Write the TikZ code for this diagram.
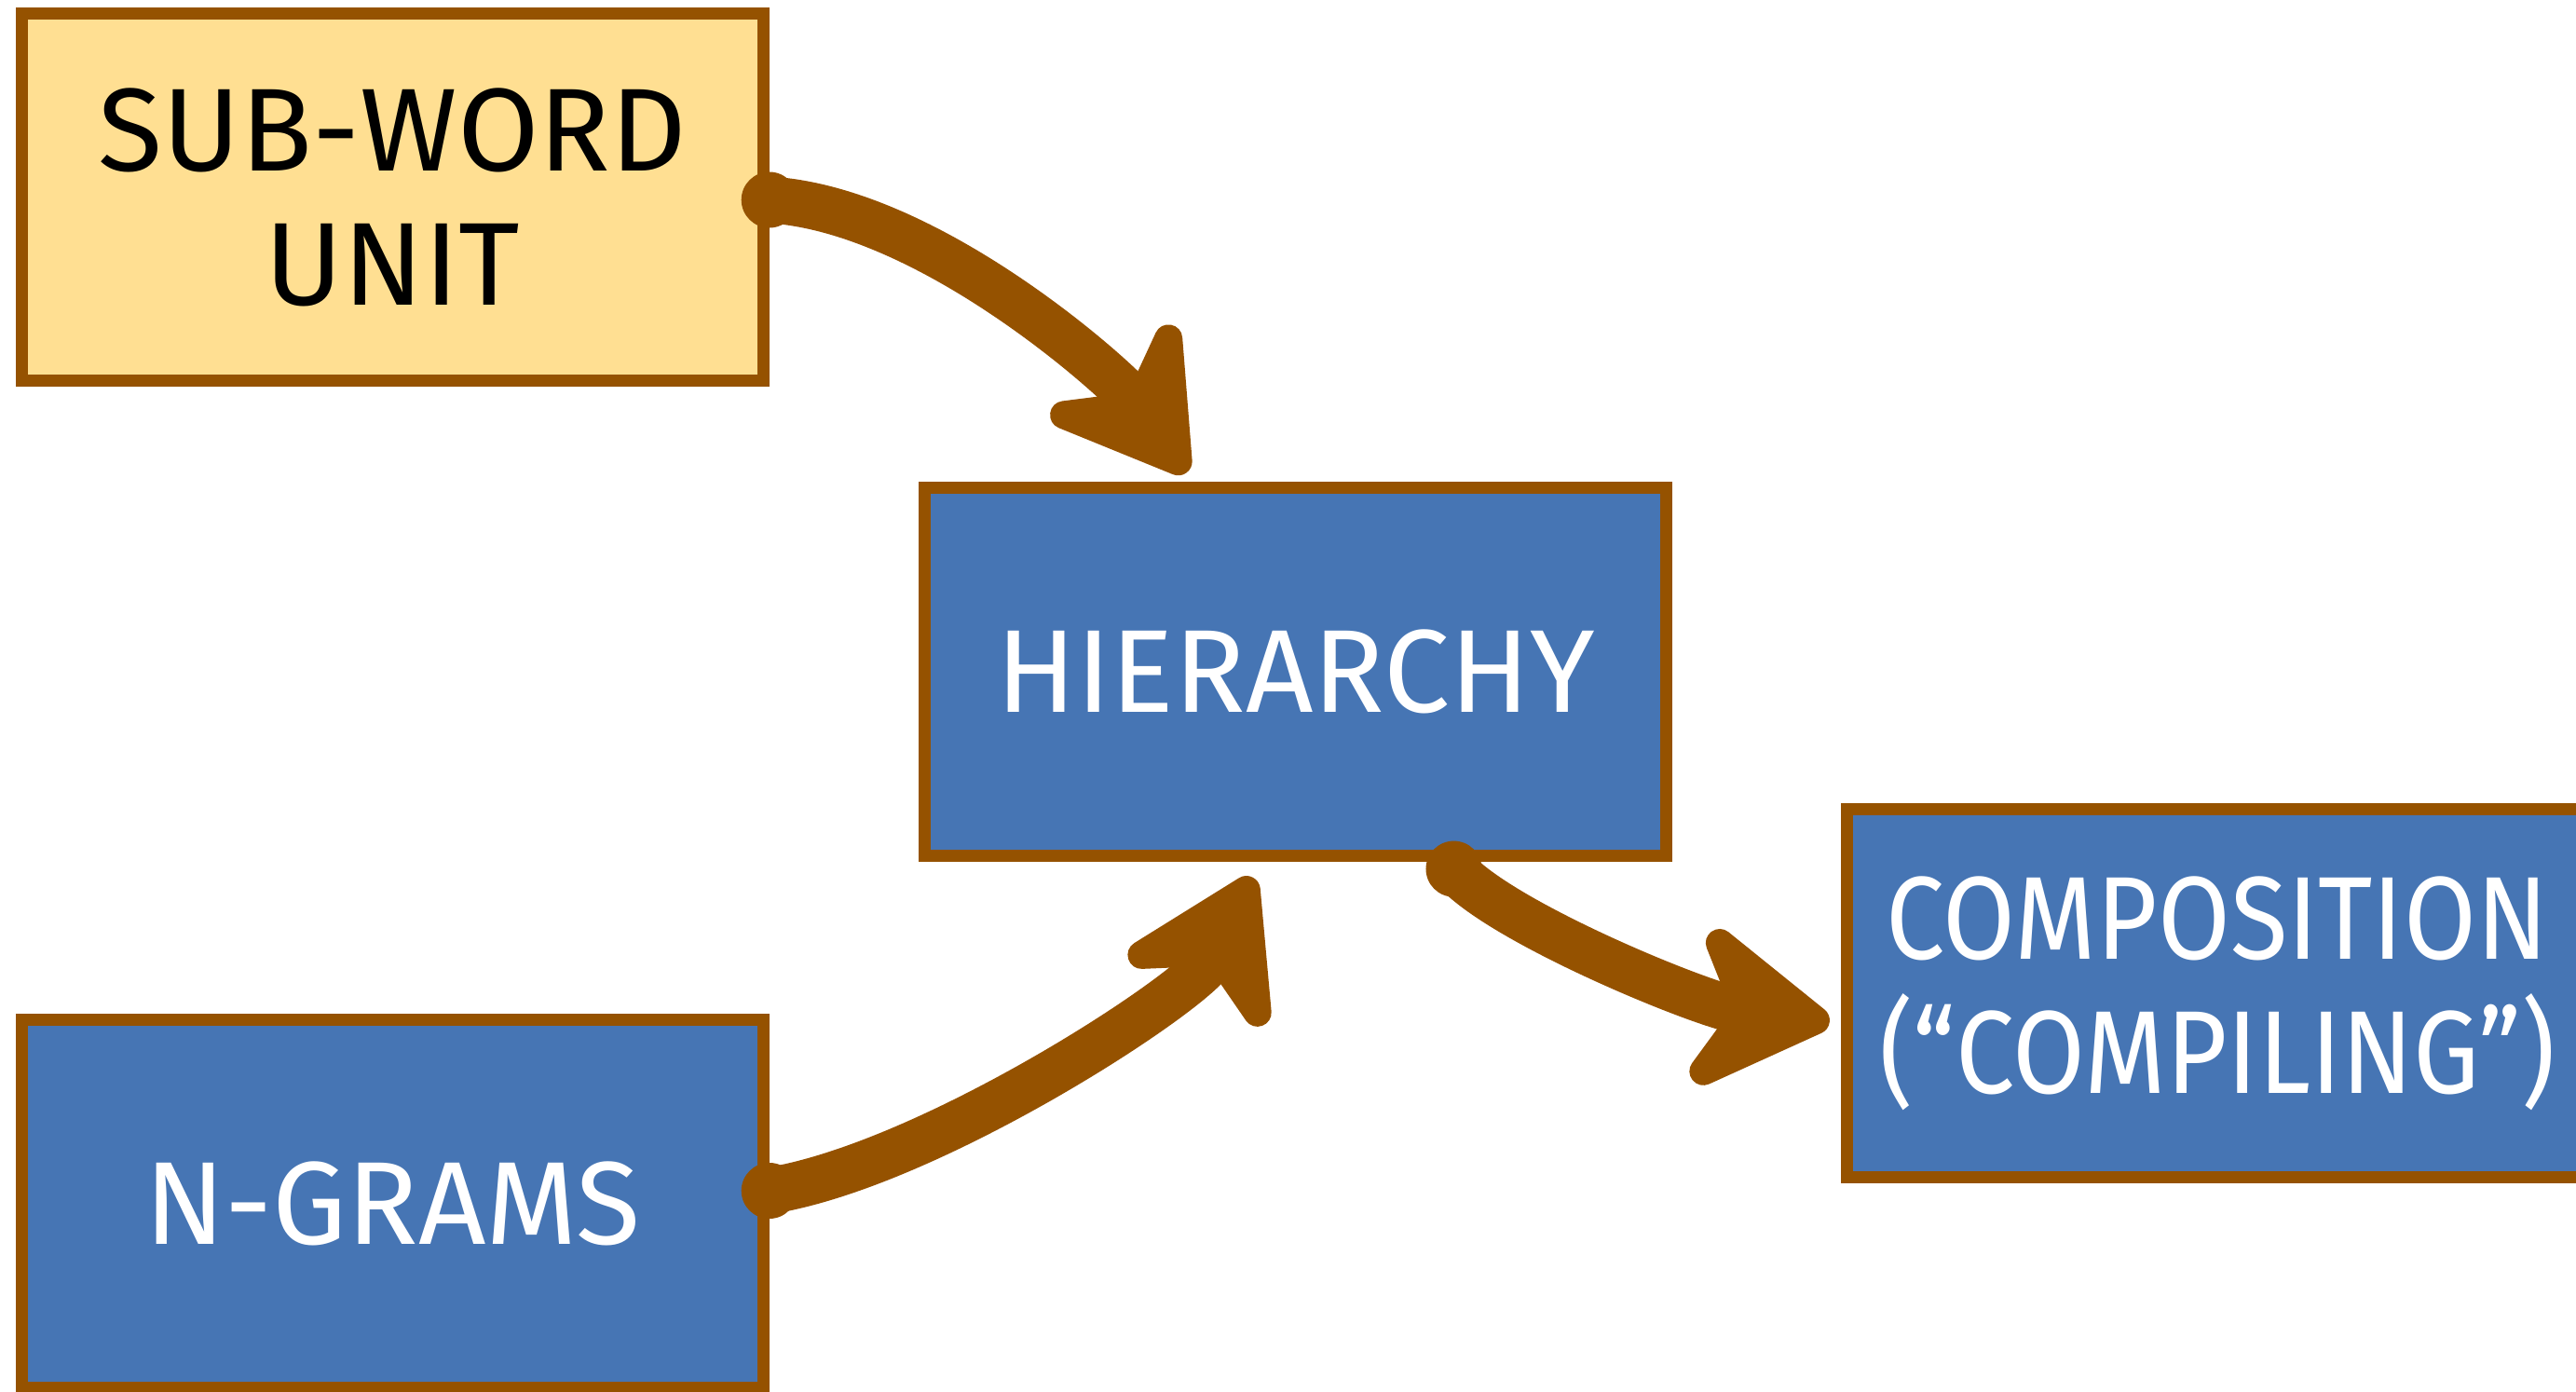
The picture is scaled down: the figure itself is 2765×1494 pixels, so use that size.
\documentclass[tikz,border=0pt]{standalone}
\usepackage{fontspec}
\setmainfont{Fira Sans}
\usetikzlibrary{arrows.meta,calc}
\definecolor{brownc}{RGB}{149,82,0}
\definecolor{bluec}{RGB}{70,117,180}
\definecolor{yellowc}{RGB}{255,223,146}
\begin{document}
\begin{tikzpicture}[x=0.01cm,y=-0.01cm,
  box/.style={draw=brownc, line width=0.13cm, minimum height=3.94cm,
    minimum width=7.95cm, inner sep=0pt,
    align=center, font=\fontsize{36}{41}\selectfont},
  bluebox/.style={box, fill=bluec, text=white},
  yellowbox/.style={box, fill=yellowc, text=black},
  conn/.style={draw=brownc, line width=0.5cm, line cap=round, line join=round,
    -{Stealth[length=1.8cm,width=2.2cm,inset=0.6cm,line width=0.3cm,round]}},
  blob/.style={fill=brownc}]
\useasboundingbox (0,0) rectangle (2765,1494);
\begin{scope}
\clip (0,0) rectangle (2765,1494);
\node[yellowbox] (sub) at (421.5,211.5) {SUB-WORD\\UNIT};
\node[bluebox] (ngram) at (421.5,1292) {N-GRAMS};
\node[bluebox] (hier) at (1390.5,721) {HIERARCHY};
\node[bluebox] (comp) at (2380,1066)
  {\scalebox{0.89}[1]{COMPOSITION}\\\scalebox{0.89}[1]{(“COMPILING”)}};
\end{scope}
\coordinate (s1) at ($(sub.east)+(0,3)$);
\coordinate (e1) at ($(hier.north)+(-117,-10)$);
\coordinate (s2) at ($(ngram.east)+(0,-14)$);
\coordinate (e2) at ($(hier.south)+(-46,17)$);
\coordinate (s3) at ($(hier.south)+(170,8)$);
\coordinate (e3) at ($(comp.west)+(-12,31)$);
\draw[conn] (s1) .. controls (1000,225) and (1203,411) .. (e1);
\draw[conn] (s2) .. controls (1000,1250) and (1284,1063) .. (e2);
\draw[conn] (s3) .. controls (1610,990) and (1830,1080) .. (e3);
\fill[blob] (s1) circle (0.3cm);
\fill[blob] (s2) circle (0.3cm);
\fill[blob] (s3) circle (0.3cm);
\end{tikzpicture}
\end{document}
